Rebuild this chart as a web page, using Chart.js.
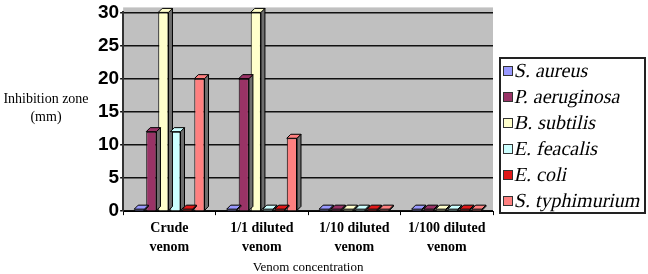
<!DOCTYPE html>
<html>
<head>
<meta charset="utf-8">
<script src="https://cdn.jsdelivr.net/npm/chart.js@4"></script>
<style>
  body { margin: 0; background: #fff; }
  #wrap { position: relative; width: 648px; height: 274px; }
</style>
</head>
<body>
<div id="wrap"><canvas id="zoneChart" width="648" height="274"></canvas></div>
<script>
// Données
const categories = [['Crude', 'venom'], ['1/1 diluted', 'venom'], ['1/10 diluted', 'venom'], ['1/100 diluted', 'venom']];
const seriesNames = ['S. aureus', 'P. aeruginosa', 'B. subtilis', 'E. feacalis', 'E. coli', 'S. typhimurium'];
const sAureus = [0, 0, 0, 0];
const pAeruginosa = [12, 20, 0, 0];
const bSubtilis = [30, 30, 0, 0];
const eFeacalis = [12, 0, 0, 0];
const eColi = [0, 0, 0, 0];
const sTyphimurium = [20, 11, 0, 0];
const yTicks = [0, 5, 10, 15, 20, 25, 30];

const seriesValues = [sAureus, pAeruginosa, bSubtilis, eFeacalis, eColi, sTyphimurium];
const seriesColors = ['#9999ff', '#993366', '#ffffcc', '#ccffff', '#e01818', '#ff8080'];

const serif = "'Liberation Serif', 'Times New Roman', serif";
const sans = "'Liberation Sans', Arial, sans-serif";

// Fond gris de la zone de tracé
const plotBackground = {
    id: 'plotBackground',
    beforeDraw(chart) {
        const { ctx, chartArea: a } = chart;
        ctx.save();
        ctx.fillStyle = '#c0c0c0';
        ctx.fillRect(a.left, a.top - 5, a.right - a.left, a.bottom - a.top + 5);
        ctx.restore();
    }
};

// Effet 3D : face du dessus et face latérale des barres
const barDepth = {
    id: 'barDepth',
    afterDatasetsDraw(chart) {
        const ctx = chart.ctx;
        const d = 4;
        ctx.save();
        ctx.lineWidth = 1;
        ctx.strokeStyle = '#000';
        chart.data.datasets.forEach((ds, i) => {
            chart.getDatasetMeta(i).data.forEach(bar => {
                const { x, y, width, base } = bar.getProps(['x', 'y', 'width', 'base'], true);
                const l = x - width / 2, r = x + width / 2;
                const top = Math.min(y, base);
                const bot = Math.max(y, base);
                ctx.fillStyle = '#6e6e6e';
                ctx.beginPath();
                ctx.moveTo(r, top); ctx.lineTo(r + d, top - d);
                ctx.lineTo(r + d, bot - d); ctx.lineTo(r, bot); ctx.closePath();
                ctx.fill(); ctx.stroke();
                ctx.fillStyle = ds.backgroundColor;
                ctx.beginPath();
                ctx.moveTo(l, top); ctx.lineTo(l + d, top - d);
                ctx.lineTo(r + d, top - d); ctx.lineTo(r, top); ctx.closePath();
                ctx.fill(); ctx.stroke();
            });
        });
        ctx.restore();
    }
};

// Titre de l'axe Y horizontal + légende encadrée
const extras = {
    id: 'extras',
    afterDraw(chart) {
        const ctx = chart.ctx;
        ctx.save();
        ctx.fillStyle = '#000';
        ctx.font = '14px ' + serif;
        ctx.textAlign = 'center';
        ctx.textBaseline = 'middle';
        ctx.fillText('Inhibition zone', 46, 99);
        ctx.fillText('(mm)', 46, 117);

        // Légende
        const boxLeft = 500, boxTop = 58, boxRight = 645, boxBottom = 213;
        ctx.fillStyle = '#fff';
        ctx.fillRect(boxLeft, boxTop, boxRight - boxLeft, boxBottom - boxTop);
        ctx.lineWidth = 2;
        ctx.strokeStyle = '#222';
        ctx.strokeRect(boxLeft, boxTop, boxRight - boxLeft, boxBottom - boxTop);

        ctx.font = '20px ' + serif;
        ctx.textAlign = 'left';
        ctx.lineWidth = 1;
        chart.data.datasets.forEach((ds, i) => {
            const cy = 71 + i * 26;
            ctx.fillStyle = ds.backgroundColor;
            ctx.fillRect(503.5, cy - 4.5, 9, 9);
            ctx.strokeStyle = '#333';
            ctx.strokeRect(503.5, cy - 4.5, 9, 9);
            // italique simulé
            ctx.save();
            ctx.translate(515, cy + 1);
            ctx.transform(1, 0, -0.22, 1, 0, 0);
            ctx.fillStyle = '#000';
            ctx.fillText(ds.label, 0, 0);
            ctx.restore();
        });
        ctx.restore();
    }
};

const ctx = document.getElementById('zoneChart').getContext('2d');
const zoneChart = new Chart(ctx, {
    type: 'bar',
    data: {
        labels: categories,
        datasets: seriesNames.map((name, i) => ({
            label: name,
            data: seriesValues[i],
            backgroundColor: seriesColors[i],
            borderColor: '#000',
            borderWidth: 1,
            minBarLength: 2,
            categoryPercentage: 0.78,
            barPercentage: 0.85
        }))
    },
    options: {
        responsive: false,
        animation: false,
        layout: { padding: { left: 97, right: 155, top: 2, bottom: 0 } },
        plugins: {
            tooltip: { enabled: false },
            legend: { display: false }
        },
        scales: {
            x: {
                offset: true,
                grid: { display: true, drawOnChartArea: false, offset: true, color: '#000', tickLength: 4 },
                border: { color: '#000' },
                ticks: { color: '#000', font: { family: serif, size: 14, weight: 'bold', lineHeight: 1.4 }, padding: 3, maxRotation: 0 },
                title: { display: true, text: 'Venom concentration', color: '#000', font: { family: serif, size: 13, lineHeight: 1.05 }, padding: { top: 0, bottom: 0 } }
            },
            y: {
                min: 0,
                max: 30,
                afterBuildTicks(scale) { scale.ticks = yTicks.map(v => ({ value: v })); },
                grid: { color: '#111', lineWidth: 1.5, tickLength: 3 },
                border: { color: '#333', width: 2 },
                ticks: { color: '#000', font: { family: sans, size: 19, weight: 'bold' }, padding: 1 }
            }
        }
    },
    plugins: [plotBackground, barDepth, extras]
});
</script>
</body>
</html>
